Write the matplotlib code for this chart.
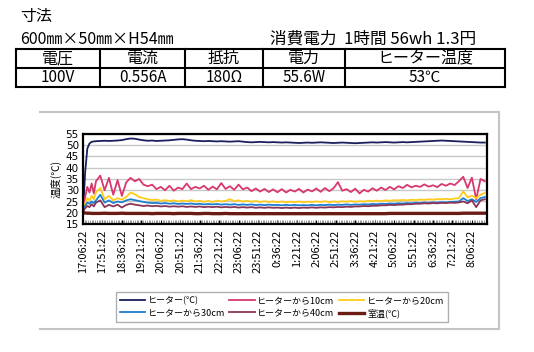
import matplotlib
matplotlib.use("Agg")
import matplotlib.pyplot as plt
from matplotlib.lines import Line2D
import numpy as np

plt.rcParams['font.family'] = ['Noto Sans CJK JP', 'DejaVu Sans']

W, H = 534, 352

# minutes after 17:06:22
TIME = [0, 5, 10, 15, 20, 25, 30] + list(range(40, 940, 10))

HEATER = [20.0, 38.0, 48.5, 50.8, 51.5, 51.7, 51.8,
          51.9, 52.0, 51.9, 52.0, 52.1, 52.3, 52.7, 53.0, 52.9, 52.5,
          52.2, 52.0, 52.1, 51.9, 52.0, 52.1, 52.2, 52.4, 52.6, 52.7,
          52.5, 52.2, 52.0, 51.9, 51.8, 51.9, 51.8, 51.7, 51.8, 51.7,
          51.6, 51.7, 51.8, 51.6, 51.4, 51.3, 51.4, 51.5, 51.4, 51.3,
          51.4, 51.3, 51.2, 51.3, 51.2, 51.1, 51.0, 51.1, 51.2, 51.1,
          51.2, 51.3, 51.2, 51.1, 51.0, 51.1, 51.2, 51.1, 51.0, 50.9,
          51.0, 51.1, 51.2, 51.3, 51.2, 51.3, 51.4, 51.3, 51.2, 51.3,
          51.4, 51.3, 51.4, 51.5, 51.6, 51.7, 51.8, 51.9, 52.0, 52.1,
          52.0, 51.9, 51.8, 51.7, 51.6, 51.5, 51.4, 51.3, 51.2, 51.2]

CM10 = [21.5, 27.0, 31.5, 29.0, 33.0, 28.5, 34.0,
        36.5, 30.0, 35.5, 28.0, 34.5, 27.5, 33.5, 35.5, 34.0, 35.0,
        32.5, 31.8, 32.5, 30.5, 31.5, 30.0, 32.0, 29.8, 31.2, 30.5,
        33.0, 30.5, 31.5, 30.8, 32.0, 30.2, 31.6, 30.4, 33.2, 30.6,
        31.8, 30.2, 32.5, 30.4, 31.2, 29.6, 30.8, 29.4, 30.6, 29.2,
        30.4, 29.1, 30.5, 29.0, 30.2, 29.4, 30.6, 29.0, 30.3, 29.5,
        30.8, 29.3, 31.0, 29.6, 30.9, 33.6, 29.8, 30.5, 29.2, 30.7,
        28.6, 30.2, 29.4, 30.9, 29.8, 31.2, 30.1, 31.5, 30.4, 31.8,
        31.0, 32.4, 31.3, 32.0, 31.5, 32.6, 31.6, 32.2, 31.4, 32.8,
        32.0, 33.0, 32.3, 34.0, 36.0, 31.0, 35.6, 26.0, 35.0, 34.0]

CM20 = [21.5, 24.5, 26.5, 25.5, 27.5, 26.0, 29.0,
        31.0, 26.0, 27.5, 25.5, 26.5, 25.8, 27.0, 29.0, 28.2, 27.0,
        26.5, 26.0, 25.6, 25.9, 25.3, 25.6, 25.2, 25.5, 25.0, 25.4,
        25.1, 25.6, 25.0, 25.3, 24.9, 25.2, 24.8, 25.4, 25.0, 25.3,
        26.0, 25.2, 25.5, 25.0, 25.3, 24.9, 25.2, 24.8, 25.1, 24.8,
        25.0, 24.7, 25.0, 24.6, 24.9, 24.7, 25.0, 24.6, 24.9, 24.7,
        25.0, 24.8, 25.1, 24.7, 25.0, 24.8, 25.1, 24.9, 25.2, 24.9,
        25.1, 25.0, 25.3, 25.1, 25.4, 25.2, 25.5, 25.3, 25.6, 25.5,
        25.7, 25.5, 25.8, 25.6, 25.9, 25.7, 26.0, 25.8, 26.1, 26.0,
        26.2, 26.0, 26.3, 26.5, 29.5, 26.8, 27.5, 26.5, 28.0, 28.8]

CM30 = [21.0, 23.0, 24.5, 24.0, 25.0, 24.3, 25.5,
        28.0, 24.5, 25.5, 24.3, 25.0, 24.6, 25.5, 26.0, 25.6, 25.2,
        24.8, 24.5, 24.3, 24.4, 24.1, 24.3, 24.0, 24.2, 23.9, 24.1,
        23.9, 24.1, 23.8, 24.0, 23.7, 23.9, 23.7, 23.9, 23.6, 23.8,
        23.6, 23.8, 23.5, 23.7, 23.5, 23.7, 23.4, 23.6, 23.4, 23.6,
        23.4, 23.5, 23.3, 23.5, 23.3, 23.5, 23.3, 23.4, 23.3, 23.5,
        23.3, 23.5, 23.4, 23.6, 23.4, 23.6, 23.5, 23.7, 23.5, 23.7,
        23.6, 23.8, 23.7, 23.9, 23.8, 24.0, 23.9, 24.1, 24.0, 24.2,
        24.1, 24.3, 24.2, 24.4, 24.3, 24.5, 24.4, 24.6, 24.5, 24.7,
        24.6, 24.8, 24.9, 25.0, 26.5, 25.2, 26.0, 24.8, 26.5, 27.0]

CM40 = [20.5, 22.0, 23.0, 22.5, 23.8, 22.8, 24.5,
        25.5, 22.5, 23.5, 22.8, 23.6, 22.3, 23.5, 24.0, 23.6, 23.3,
        23.0, 23.2, 22.9, 23.1, 22.8, 23.0, 22.7, 22.9, 22.7, 22.9,
        22.6, 22.8, 22.6, 22.8, 22.5, 22.7, 22.5, 22.7, 22.4, 22.6,
        22.4, 22.6, 22.3, 22.5, 22.3, 22.5, 22.2, 22.4, 22.2, 22.4,
        22.2, 22.3, 22.1, 22.3, 22.1, 22.3, 22.1, 22.3, 22.2, 22.4,
        22.2, 22.4, 22.3, 22.5, 22.4, 22.6, 22.5, 22.7, 22.6, 22.8,
        22.8, 23.0, 22.9, 23.1, 23.1, 23.3, 23.3, 23.5, 23.4, 23.6,
        23.6, 23.8, 23.8, 24.0, 24.0, 24.2, 24.1, 24.3, 24.2, 24.4,
        24.3, 24.5, 24.4, 24.6, 25.0, 24.2, 25.5, 22.5, 25.5, 26.0]

ROOM = [20.0, 19.9, 19.8, 19.8, 19.7, 19.7, 19.7,
        19.7, 19.8, 19.7, 19.7, 19.7, 19.8, 19.7, 19.7, 19.7, 19.7,
        19.7, 19.7, 19.6, 19.7, 19.7, 19.7, 19.7, 19.6, 19.7, 19.7,
        19.7, 19.7, 19.6, 19.6, 19.7, 19.7, 19.6, 19.6, 19.6, 19.7,
        19.6, 19.6, 19.6, 19.6, 19.6, 19.6, 19.6, 19.6, 19.6, 19.6,
        19.6, 19.6, 19.6, 19.6, 19.6, 19.6, 19.6, 19.6, 19.6, 19.6,
        19.6, 19.6, 19.6, 19.6, 19.6, 19.6, 19.6, 19.6, 19.6, 19.6,
        19.6, 19.6, 19.6, 19.6, 19.6, 19.6, 19.6, 19.7, 19.7, 19.7,
        19.7, 19.7, 19.7, 19.7, 19.7, 19.7, 19.7, 19.7, 19.7, 19.7,
        19.7, 19.7, 19.7, 19.7, 19.8, 19.8, 19.8, 19.8, 19.8, 19.8]

SERIES = ["ヒーター(℃)", "ヒーターから10cm", "ヒーターから20cm",
          "ヒーターから30cm", "ヒーターから40cm", "室温(℃)"]
COLORS = ["#1B1F5C", "#D8386C", "#FFCC1A", "#1E7FD0", "#8A3558", "#6A1C14"]

XTICK_POS = list(range(0, 901, 45))
XTICK_LBL = ["17:06:22", "17:51:22", "18:36:22", "19:21:22", "20:06:22", "20:51:22",
             "21:36:22", "22:21:22", "23:06:22", "23:51:22", "0:36:22", "1:21:22",
             "2:06:22", "2:51:22", "3:36:22", "4:21:22", "5:06:22", "5:51:22",
             "6:36:22", "7:21:22", "8:06:22"]

HEAD = ["電圧", "電流", "抵抗", "電力", "ヒーター温度"]
VALS = ["100V", "0.556A", "180Ω", "55.6W", "53℃"]
COL_EDGES = [16, 100, 185, 263, 345, 505]


def fx(px):
    return px / W


def fy(py):
    return 1 - py / H


fig = plt.figure(figsize=(W / 100, H / 100), dpi=100)

# ---- header text ----
fig.text(fx(20), fy(16), "寸法", fontsize=11.5, va="center", ha="left")
fig.text(fx(20), fy(39), "600㎜×50㎜×H54㎜", fontsize=11.5, va="center", ha="left")
fig.text(fx(270), fy(39), "消費電力  1時間 56wh 1.3円", fontsize=12, va="center", ha="left")

# ---- table ----
for yy in (49, 68, 87):
    fig.add_artist(Line2D([fx(16), fx(505)], [fy(yy), fy(yy)], color="black", lw=1.5,
                          transform=fig.transFigure))
for xx in COL_EDGES:
    fig.add_artist(Line2D([fx(xx), fx(xx)], [fy(49), fy(87)], color="black", lw=1.5,
                          transform=fig.transFigure))
for i in range(5):
    cx = (COL_EDGES[i] + COL_EDGES[i + 1]) / 2
    fig.text(fx(cx), fy(58.5), HEAD[i], fontsize=11.5, ha="center", va="center")
    fig.text(fx(cx), fy(77.5), VALS[i], fontsize=11, ha="center", va="center")

# ---- chart outer box ----
for xs, ys in (([40, 499], [112, 112]), ([499, 499], [112, 329]), ([40, 499], [329, 329])):
    fig.add_artist(Line2D([fx(x) for x in xs], [fy(y) for y in ys], color="#C4C4C4", lw=1.5,
                          transform=fig.transFigure))

# ---- plot ----
ax = fig.add_axes([fx(83), fy(224), fx(487) - fx(83), fy(134) - fy(224)])
data = [HEATER, CM10, CM20, CM30, CM40, ROOM]
handles = []
for name, vals, c in zip(SERIES, data, COLORS):
    lw = 2.4 if name == "室温(℃)" else 1.3
    h, = ax.plot(TIME, vals, color=c, lw=lw, label=name)
    handles.append(h)

ax.set_xlim(0, 935)
ax.set_ylim(15, 55)
ax.set_yticks(range(15, 56, 5))
ax.set_xticks(XTICK_POS)
ax.set_xticklabels(XTICK_LBL, rotation=90, fontsize=8)
ax.set_xticks(np.arange(0, 935, 4), minor=True)
ax.tick_params(axis="x", which="major", length=3, direction="in", pad=4)
ax.tick_params(axis="x", which="minor", length=3, direction="in", color="#888888", width=0.6)
ax.tick_params(axis="y", length=0, labelsize=7.5, pad=3)
for t in ax.get_yticklabels():
    t.set_fontfamily(["Liberation Sans Narrow", "DejaVu Sans"])
ax.grid(axis="y", color="#C8C8C8", lw=1)
ax.set_axisbelow(True)
for s in ax.spines.values():
    s.set_linewidth(1.6)
    s.set_color("black")
ax.set_ylabel("温度(℃)", fontsize=7.5, labelpad=3)

order = [0, 3, 1, 4, 2, 5]
leg = fig.legend([handles[i] for i in order], [SERIES[i] for i in order],
                 loc="center", bbox_to_anchor=(fx(282), fy(307)), ncol=3, fontsize=6.5,
                 frameon=True, fancybox=False, edgecolor="#B0B0B0", framealpha=1,
                 handlelength=2.8, columnspacing=0.5, borderpad=0.4, labelspacing=0.35,
                 handletextpad=0.3)
leg.get_frame().set_linewidth(1.0)

fig.savefig("out.png", dpi=100)
